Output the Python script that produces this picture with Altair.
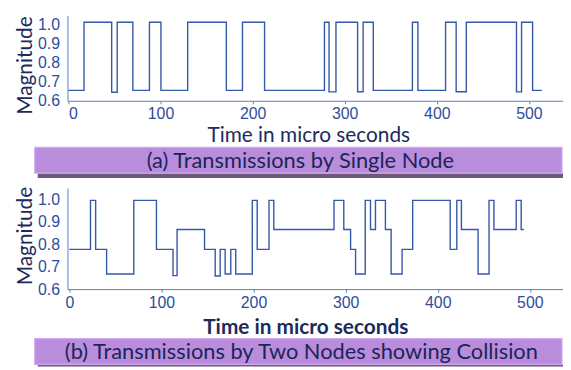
import altair as alt
import pandas as pd

# ---------------- data ----------------
# Panel (a): step boundaries (micro seconds) and the magnitude level between them
a_edges = [0, 17, 47, 53, 70, 88, 100.5, 129.5, 171.5, 189, 213, 278, 283, 290.5,
           314, 320, 331, 373.5, 379.5, 409.5, 421, 432, 486.5, 492, 504, 514]
a_levels = [0.655, 1.015, 0.645, 1.015, 0.655, 1.015, 0.655, 1.015, 0.655, 1.015,
            0.655, 1.015, 0.647, 1.015, 0.648, 1.015, 0.655, 1.015, 0.655, 1.015,
            0.648, 1.015, 0.647, 1.015, 0.655]

# Panel (b): two nodes, collisions produce intermediate levels
b_edges = [0, 23, 28.6, 40.5, 70, 94.6, 112.6, 117, 146.8, 158.4, 163.8, 169.2,
           175.3, 180.7, 198.7, 204, 216.8, 222, 287.4, 298, 305.4, 310.8, 321.3,
           327, 332.4, 343.2, 349.4, 361.3, 372.8, 413.5, 420.7, 425.7, 443.8,
           455.7, 461, 485.2, 490.6, 493.5]
b_levels = [0.777, 0.995, 0.777, 0.667, 0.995, 0.777, 0.66, 0.865, 0.777, 0.658,
            0.777, 0.667, 0.777, 0.667, 0.995, 0.777, 0.995, 0.865, 0.995, 0.865,
            0.777, 0.667, 0.995, 0.865, 0.995, 0.865, 0.667, 0.777, 0.995, 0.777,
            0.995, 0.865, 0.667, 0.995, 0.865, 0.995, 0.865]

x_ticks = [0, 100, 200, 300, 400, 500]
y_ticks = [0.6, 0.7, 0.8, 0.9, 1.0]
caption_a = "(a) Transmissions by Single Node"
caption_b = "(b) Transmissions by Two Nodes showing Collision"
x_title = "Time in micro seconds"
y_title = "Magnitude"

# ---------------- styles ----------------
LINE = "#3558a8"
DOMAIN = "#5b7ec8"
LABEL = "#2d4d9c"
TITLE = "#1b2b5e"
PURPLE = "#b98ddc"
PURPLE_EDGE = "#cfa8ee"
SHADOW = "#6c5878"
CAPTION = "#1b2559"
W = 500


def steps(edges, levels):
    rows = []
    k = 0
    for i, lv in enumerate(levels):
        rows.append({"t": edges[i], "m": lv, "i": k}); k += 1
        rows.append({"t": edges[i + 1], "m": lv, "i": k}); k += 1
    return pd.DataFrame(rows)


def panel(edges, levels, xdom, h, caption, bar_y, bar_h, shadow_h, bold_title,
          ytitle_y, xlabel_pad, xtitle_pad, xtitle_x, cap_x):
    df = steps(edges, levels)
    line = alt.Chart(df).mark_line(color=LINE, strokeWidth=1.4).encode(
        x=alt.X("t:Q", scale=alt.Scale(domain=xdom, nice=False, zero=False),
                axis=alt.Axis(values=x_ticks, format="d", grid=False,
                              labelFont="Liberation Sans", labelFontSize=16,
                              labelColor=LABEL, tickSize=3, tickColor=DOMAIN,
                              domainColor=DOMAIN, labelPadding=xlabel_pad,
                              title=x_title, titleFont="Lato", titleFontSize=21,
                              titleFontWeight="bold" if bold_title else "normal",
                              titleColor=TITLE, titlePadding=xtitle_pad,
                              titleX=xtitle_x)),
        y=alt.Y("m:Q", scale=alt.Scale(domain=[0.6, 1.05], nice=False, zero=False),
                axis=alt.Axis(values=y_ticks, format=".1f", grid=False,
                              labelFont="Liberation Sans", labelFontSize=16,
                              labelColor=LABEL, tickSize=0, domainColor=DOMAIN,
                              labelPadding=8, title=y_title, titleFont="Lato",
                              titleFontSize=21, titleFontWeight="normal",
                              titleColor=TITLE, titlePadding=2, titleY=ytitle_y)),
        order=alt.Order("i:Q"),
    )
    cap_df = pd.DataFrame({"c": [caption]})
    base = alt.Chart(cap_df)
    shadow = base.mark_rect(color=SHADOW).encode(
        x=alt.value(-30), x2=alt.value(W),
        y=alt.value(bar_y + bar_h), y2=alt.value(bar_y + bar_h + shadow_h))
    bar = base.mark_rect(color=PURPLE, stroke=PURPLE_EDGE, strokeWidth=1.2).encode(
        x=alt.value(-33), x2=alt.value(W - 1),
        y=alt.value(bar_y), y2=alt.value(bar_y + bar_h))
    text = base.mark_text(font="Lato", fontSize=22, color=CAPTION,
                          baseline="middle", align="center").encode(
        x=alt.value(cap_x), y=alt.value(bar_y + bar_h / 2 + 1), text="c:N")
    return alt.layer(line, shadow, bar, text).properties(width=W, height=h)


pa = panel(a_edges, a_levels, [-1, 537], 86, caption_a, 133, 26, 5, False, 50, 2, 3, 243, 235)
pb = panel(b_edges, b_levels, [-2, 536], 102, caption_b, 152, 26, 2, True, 48, 3, 6, 240, 236)

chart = alt.vconcat(pa, pb, spacing=8).properties(
    padding={"left": 6, "top": 6, "right": 0, "bottom": 0}
).configure_view(stroke=None)

chart.save("out.html", embed_options={"renderer": "svg", "actions": False})
